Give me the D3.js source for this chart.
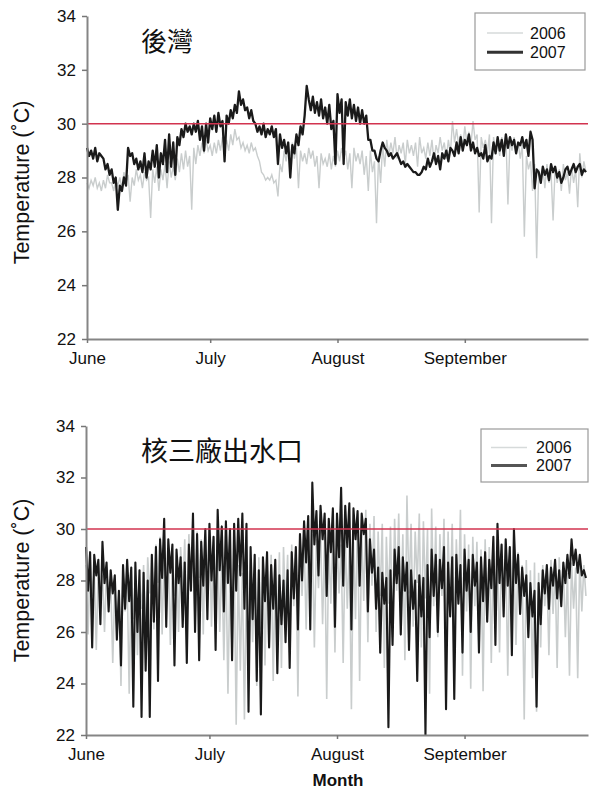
<!DOCTYPE html>
<html>
<head>
<meta charset="utf-8">
<script src="https://cdn.jsdelivr.net/npm/d3@7"></script>
<style>
  body { margin: 0; background: #fff; }
  svg { display: block; font-family: "Liberation Sans", Arial, sans-serif; }
</style>
</head>
<body>
<svg id="chart" width="589" height="789"></svg>
<script>
// two readings a day, 1 June .. 30 Sep
const startDate = new Date(2007, 5, 1);
const monthTicks = [new Date(2007, 5, 1), new Date(2007, 6, 1), new Date(2007, 7, 1), new Date(2007, 8, 1)];
const yTicks = [22, 24, 26, 28, 30, 32, 34];
const threshold = 30;
const years = ["2006", "2007"];
const siteNames = ["後灣", "核三廠出水口"];

// 後灣
const houwan2006 = [
  27.8, 27.6, 27.9, 27.7, 28.0, 27.6, 27.8, 27.5, 27.9, 27.6,
  28.1, 27.8, 27.8, 27.5, 27.9, 27.7, 28.0, 27.6, 28.2, 27.8,
  28.1, 27.1, 28.0, 27.7, 28.3, 27.9, 28.1, 27.6, 28.2, 27.9,
  28.0, 26.5, 28.3, 27.8, 28.4, 27.5, 28.3, 27.9, 28.5, 27.6,
  28.6, 28.0, 28.4, 27.9, 28.7, 28.2, 28.9, 28.3, 29.0, 28.4,
  28.8, 26.8, 29.1, 28.5, 29.2, 28.8, 29.3, 28.9, 29.4, 29.0,
  29.2, 28.8, 29.3, 28.9, 29.4, 29.0, 29.5, 29.1, 29.4, 29.0,
  29.6, 29.2, 29.8, 29.4, 29.5, 29.1, 29.3, 29.0, 29.2, 28.9,
  29.3, 29.0, 29.1, 28.8, 28.6, 28.2, 28.1, 27.9, 28.0, 27.9,
  28.1, 27.8, 27.9, 27.3, 28.5, 28.2, 29.0, 28.6, 29.2, 28.8,
  29.3, 28.7, 29.1, 27.6, 29.0, 28.6, 28.9, 28.5, 29.1, 28.7,
  29.0, 28.4, 28.8, 27.6, 28.9, 28.5, 28.7, 28.4, 28.9, 28.3,
  28.8, 28.4, 29.0, 28.6, 29.1, 28.7, 29.0, 28.3, 28.9, 27.6,
  29.1, 28.6, 28.9, 28.5, 29.0, 28.1, 28.8, 27.5, 29.0, 28.2,
  28.6, 26.3, 28.8, 27.8, 29.2, 28.4, 29.4, 28.8, 29.3, 28.9,
  29.5, 28.7, 29.2, 28.9, 29.3, 28.5, 29.4, 28.9, 29.2, 28.8,
  29.3, 28.4, 29.5, 28.9, 29.1, 28.7, 29.3, 28.8, 29.4, 28.6,
  29.2, 28.9, 29.5, 29.0, 29.3, 28.7, 29.4, 28.9, 30.1, 29.3,
  29.8, 29.2, 29.6, 29.1, 29.9, 29.3, 29.7, 29.2, 30.1, 29.4,
  29.6, 26.7, 29.5, 29.1, 29.4, 28.9, 29.6, 26.3, 29.5, 29.0,
  29.3, 28.8, 29.5, 29.1, 29.6, 27.0, 29.4, 29.0, 29.5, 28.9,
  29.3, 28.7, 29.2, 25.8, 28.8, 28.3, 28.6, 27.5, 28.5, 25.0,
  28.3, 27.9, 28.4, 27.6, 28.5, 27.8, 28.2, 26.4, 28.4, 27.8,
  28.3, 27.5, 28.5, 27.9, 28.2, 27.4, 28.4, 27.8, 28.3, 26.9,
  28.9, 28.0, 28.6, 28.2
];
const houwan2007 = [
  29.1, 28.8, 29.0, 28.7, 29.1, 28.6, 28.9, 28.8, 28.7, 28.3,
  28.5, 28.1, 28.3, 27.8, 28.0, 26.8, 27.7, 27.5, 28.0, 27.7,
  29.1, 28.8, 28.9, 28.5, 28.7, 28.3, 28.6, 28.2, 28.9, 28.0,
  28.6, 28.3, 29.0, 28.4, 29.2, 28.0, 28.9, 28.5, 29.4, 28.2,
  29.6, 28.4, 29.3, 28.1, 29.5, 29.2, 29.8, 29.5, 30.0, 29.7,
  29.9, 29.6, 30.0, 29.7, 30.1, 29.4, 29.9, 29.0, 30.0, 29.3,
  30.2, 29.8, 30.3, 29.7, 30.4, 29.9, 30.1, 28.6, 30.3, 30.0,
  30.5, 30.2, 30.7, 30.4, 31.2, 30.7, 30.9, 30.5, 30.6, 30.2,
  30.5, 30.1, 30.0, 29.7, 29.9, 29.6, 30.0, 29.5, 29.8, 29.6,
  29.9, 29.5, 29.8, 28.5, 29.6, 29.1, 29.4, 28.9, 29.3, 28.0,
  29.2, 28.9, 29.6, 29.2, 29.9, 29.6, 30.3, 31.4, 30.9, 30.5,
  31.0, 30.4, 30.8, 30.3, 30.9, 30.2, 30.6, 30.0, 30.7, 29.8,
  30.1, 28.5, 31.1, 30.4, 30.9, 28.5, 30.8, 30.3, 30.9, 30.2,
  30.7, 30.1, 30.6, 30.0, 30.5, 30.0, 30.3, 29.4, 29.4, 29.0,
  29.0, 28.7, 28.6, 29.0, 29.3, 29.1, 29.0, 28.8, 28.9, 28.7,
  28.8, 28.9, 28.7, 28.5, 28.6, 28.4, 28.5, 28.4, 28.3, 28.2,
  28.2, 28.1, 28.1, 28.2, 28.4, 28.3, 28.7, 28.4, 28.6, 28.9,
  28.5, 28.8, 28.3, 28.9, 28.7, 29.0, 28.6, 29.1, 29.0, 28.8,
  29.3, 28.9, 29.5, 29.0, 29.4, 29.2, 29.6, 29.0, 29.3, 28.9,
  29.1, 28.8, 28.9, 28.7, 29.2, 28.6, 28.8, 28.7, 29.3, 28.9,
  29.5, 29.0, 29.4, 28.8, 29.6, 29.1, 29.5, 29.2, 29.4, 28.9,
  29.3, 29.2, 29.5, 29.1, 29.4, 28.8, 29.7, 29.4, 27.6, 28.3,
  28.2, 27.8, 28.4, 28.1, 28.3, 27.9, 28.5, 28.2, 28.4, 28.0,
  28.2, 27.8, 28.0, 28.3, 28.4, 28.1, 28.3, 28.5, 28.2, 28.4,
  28.5, 28.1, 28.3, 28.2
];

// 核三廠出水口
const outlet2006 = [
  28.6, 25.9, 28.9, 27.4, 28.4, 25.3, 28.7, 27.1, 28.2, 26.0,
  28.5, 27.3, 28.0, 24.8, 27.8, 26.2, 27.5, 23.9, 28.3, 26.8,
  28.1, 23.6, 28.4, 26.5, 28.2, 25.1, 28.0, 26.9, 28.6, 25.6,
  28.9, 27.5, 29.0, 26.1, 29.4, 27.9, 29.7, 25.9, 29.2, 27.3,
  29.0, 25.5, 28.8, 27.4, 29.1, 26.0, 29.3, 27.6, 29.6, 25.8,
  29.8, 27.9, 29.5, 26.4, 29.9, 28.1, 29.6, 25.9, 29.8, 27.5,
  30.0, 26.2, 29.7, 27.8, 29.4, 26.0, 29.0, 24.9, 28.8, 23.6,
  28.5, 25.1, 28.9, 22.4, 28.6, 24.5, 28.3, 22.6, 28.0, 24.0,
  28.4, 25.6, 28.7, 23.9, 28.9, 26.1, 28.6, 24.7, 28.8, 26.4,
  29.0, 24.1, 28.7, 26.3, 29.1, 24.6, 29.3, 26.8, 29.0, 25.2,
  29.4, 27.0, 29.2, 23.5, 29.5, 27.4, 29.7, 26.1, 29.5, 27.8,
  29.8, 25.4, 29.6, 27.7, 29.9, 26.3, 29.7, 23.4, 29.5, 27.1,
  29.8, 25.2, 29.6, 27.5, 29.4, 24.8, 29.7, 26.9, 29.3, 23.0,
  29.5, 26.5, 30.6, 24.1, 29.8, 27.2, 30.75, 25.6, 30.2, 27.8,
  30.5, 26.0, 29.9, 27.4, 30.2, 24.6, 29.7, 27.1, 30.1, 25.8,
  30.4, 27.6, 30.6, 26.7, 29.8, 24.9, 31.3, 27.5, 30.2, 26.2,
  29.9, 27.9, 30.6, 25.4, 30.3, 27.3, 30.0, 23.6, 30.8, 27.0,
  30.1, 25.8, 29.8, 27.4, 30.4, 24.7, 29.9, 26.9, 30.2, 25.5,
  29.6, 27.2, 30.75, 24.3, 29.8, 26.8, 29.4, 23.8, 29.7, 27.0,
  29.5, 25.6, 29.2, 23.7, 29.6, 26.5, 29.3, 24.8, 29.5, 27.1,
  29.1, 25.2, 29.4, 26.7, 29.0, 24.3, 29.3, 26.9, 28.9, 25.5,
  29.1, 27.2, 28.6, 22.6, 28.8, 25.9, 28.4, 24.2, 28.7, 22.9,
  28.3, 25.4, 28.6, 27.0, 28.4, 25.1, 28.8, 26.7, 28.5, 24.6,
  28.9, 27.2, 28.6, 25.8, 28.3, 24.3, 28.7, 26.9, 28.5, 24.2,
  28.9, 26.8, 28.6, 27.4
];
const outlet2007 = [
  29.3, 27.6, 29.1, 25.4, 29.0, 28.2, 28.8, 26.3, 29.5, 27.9,
  28.7, 26.8, 28.4, 27.5, 28.2, 25.7, 27.6, 24.7, 28.6, 26.9,
  28.8, 27.2, 28.5, 23.1, 28.7, 26.0, 28.4, 22.7, 28.3, 24.5,
  28.0, 22.7, 29.0, 26.4, 29.3, 24.1, 29.6, 28.1, 30.4, 26.2,
  29.6, 28.3, 29.4, 24.7, 29.2, 27.9, 28.9, 26.2, 28.7, 24.8,
  29.4, 27.6, 30.6, 26.0, 29.8, 24.9, 29.5, 27.8, 30.0, 26.5,
  30.2, 28.0, 29.7, 25.3, 30.75, 28.4, 30.1, 26.8, 30.3, 27.9,
  30.0, 24.9, 30.2, 27.6, 30.4, 28.2, 30.6, 26.9, 30.2, 22.9,
  29.3, 26.5, 29.0, 24.1, 28.4, 22.8, 28.9, 27.2, 29.1, 25.4,
  28.6, 26.9, 28.8, 24.4, 28.2, 26.3, 28.0, 25.6, 28.4, 24.6,
  29.1, 27.3, 29.3, 26.1, 29.8, 28.0, 30.3, 28.7, 30.5, 26.1,
  31.8, 29.4, 30.7, 28.2, 30.9, 29.6, 30.6, 27.4, 30.4, 29.1,
  30.8, 26.2, 30.6, 28.9, 31.6, 27.8, 30.9, 29.3, 31.0, 26.1,
  30.8, 29.6, 30.7, 27.8, 30.6, 29.8, 30.4, 26.8, 29.6, 28.3,
  29.2, 26.9, 28.5, 25.2, 28.3, 27.1, 28.1, 22.3, 28.4, 25.5,
  29.2, 27.9, 29.3, 25.9, 28.9, 27.6, 28.7, 25.3, 28.4, 26.9,
  28.0, 24.1, 28.2, 26.6, 28.1, 22.0, 28.6, 25.8, 29.2, 27.4,
  29.0, 26.0, 28.8, 27.7, 29.3, 23.0, 28.7, 26.6, 28.9, 23.4,
  29.0, 27.1, 28.6, 25.2, 29.2, 27.6, 28.8, 26.0, 29.0, 27.8,
  28.7, 25.2, 28.9, 27.2, 29.1, 26.4, 28.8, 27.7, 29.7, 25.5,
  30.2, 27.9, 29.4, 26.6, 29.6, 27.8, 29.3, 25.1, 30.0, 27.9,
  29.0, 26.7, 28.5, 27.4, 28.2, 25.8, 27.9, 26.6, 27.6, 23.1,
  27.9, 26.3, 28.4, 27.5, 28.6, 26.9, 28.5, 27.8, 28.8, 27.3,
  28.4, 27.0, 28.7, 27.9, 29.0, 28.1, 29.6, 28.6, 29.2, 28.3,
  29.0, 28.2, 28.4, 28.1
];

const svg = d3.select("#chart");

const panels = [
  { name: siteNames[0], s06: houwan2006, s07: houwan2007, top: 16, bottom: 339, left: 87,
    w06: 1.4, w07: 2.3, labelShift: 5,
    titleSize: 26, titleY: 51, legend: { x: 475, y: 13, w: 110, h: 57, lx: 487, tx: 530 },
    darkLegend: "#333" },
  { name: siteNames[1], s06: outlet2006, s07: outlet2007, top: 426, bottom: 735, left: 86,
    w06: 1.6, w07: 2.1, labelShift: 0,
    titleSize: 27, titleY: 461, legend: { x: 481, y: 429, w: 107, h: 53, lx: 491, tx: 536 },
    darkLegend: "#555" }
];
const right = 588;

function toDate(i) {
  return d3.timeHour.offset(startDate, i * 12);
}

panels.forEach(p => {
  const x = d3.scaleTime()
    .domain([startDate, new Date(2007, 9, 1)])
    .range([p.left, right]);
  const y = d3.scaleLinear()
    .domain([22, 34])
    .range([p.bottom, p.top]);

  const line = d3.line()
    .x((d, i) => x(toDate(i)))
    .y(d => y(d));

  const g = svg.append("g");

  g.append("path")
    .datum(p.s06)
    .attr("d", line)
    .attr("fill", "none")
    .attr("stroke", "#c9cdcd")
    .attr("stroke-width", p.w06);

  g.append("path")
    .datum(p.s07)
    .attr("d", line)
    .attr("fill", "none")
    .attr("stroke", "#1a1a1a")
    .attr("stroke-width", p.w07)
    .attr("stroke-linejoin", "round");

  // 30 degree reference line
  g.append("line")
    .attr("x1", p.left).attr("x2", right)
    .attr("y1", y(threshold)).attr("y2", y(threshold))
    .attr("stroke", "#d2334f")
    .attr("stroke-width", 1.5);

  // axes
  const yAxis = g.append("g")
    .attr("transform", `translate(${p.left},0)`)
    .call(d3.axisLeft(y).tickValues(yTicks).tickSize(5).tickSizeOuter(0).tickPadding(6));

  const xAxis = g.append("g")
    .attr("transform", `translate(0,${p.bottom})`)
    .call(d3.axisBottom(x).tickValues(monthTicks).tickFormat(d3.timeFormat("%B"))
      .tickSize(4).tickSizeOuter(0).tickPadding(9));

  [yAxis, xAxis].forEach(a => {
    a.select(".domain").attr("stroke", "#858585").attr("stroke-width", 2);
    a.selectAll(".tick line").attr("stroke", "#777").attr("stroke-width", 1.5);
    a.selectAll("text")
      .attr("fill", "#111")
      .style("font-size", "17px")
      .style("font-family", "'Liberation Sans', Arial, sans-serif");
  });

  // y title
  g.append("text")
    .attr("transform", `translate(29,${(p.top + p.bottom) / 2 + p.labelShift}) rotate(-90)`)
    .attr("text-anchor", "middle")
    .attr("fill", "#111")
    .style("font-size", "21.5px")
    .text("Temperature (˚C)");

  // site name
  g.append("text")
    .attr("x", 141)
    .attr("y", p.titleY)
    .attr("fill", "#111")
    .style("font-family", "'Noto Sans CJK TC', 'Noto Sans CJK SC', sans-serif")
    .style("font-size", p.titleSize + "px")
    .text(p.name);

  // legend
  const L = p.legend;
  const lg = g.append("g");
  lg.append("rect")
    .attr("x", L.x).attr("y", L.y).attr("width", L.w).attr("height", L.h)
    .attr("fill", "#fff").attr("stroke", "#9a9a9a").attr("stroke-width", 1.2);
  const rowY = [L.y + L.h * 0.35, L.y + L.h * 0.69];
  years.forEach((yr, k) => {
    lg.append("line")
      .attr("x1", L.lx).attr("x2", L.lx + 36)
      .attr("y1", rowY[k]).attr("y2", rowY[k])
      .attr("stroke", k === 0 ? "#d6dada" : p.darkLegend)
      .attr("stroke-width", k === 0 ? 1.6 : 3);
    lg.append("text")
      .attr("x", L.tx).attr("y", rowY[k])
      .attr("dy", "0.36em")
      .attr("fill", "#111")
      .style("font-size", "16px")
      .text(yr);
  });
});

svg.append("text")
  .attr("x", 338)
  .attr("y", 786)
  .attr("text-anchor", "middle")
  .attr("fill", "#111")
  .style("font-size", "17px")
  .style("font-weight", "bold")
  .text("Month");
</script>
</body>
</html>
